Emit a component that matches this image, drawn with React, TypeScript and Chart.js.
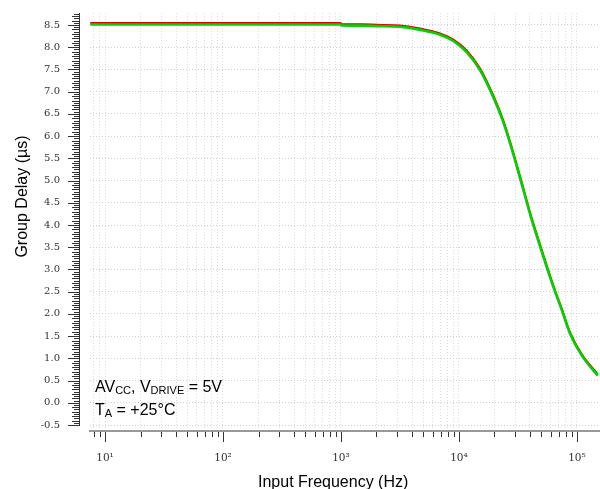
import React, { useEffect, useRef } from 'react';
import { Chart, registerables } from 'chart.js';

Chart.register(...registerables);

// ---- data ----
const freqHz = [7.5, 10, 30, 100, 300, 999, 1000, 1500, 2000, 3160, 4670, 6900, 8950, 11600, 15100, 19500, 23700, 28000, 33200, 41300, 48500, 55300, 63800, 75000, 87200, 110000, 150000];
const delayRedUs = [8.545, 8.545, 8.545, 8.545, 8.545, 8.545, 8.52, 8.515, 8.505, 8.49, 8.42, 8.31, 8.17, 7.93, 7.52, 6.92, 6.36, 5.75, 5.06, 4.16, 3.57, 3.1, 2.6, 2.09, 1.59, 1.09, 0.64];
const delayGreenUs = [8.51, 8.51, 8.51, 8.51, 8.51, 8.51, 8.49, 8.485, 8.475, 8.46, 8.39, 8.28, 8.14, 7.89, 7.48, 6.88, 6.32, 5.71, 5.02, 4.12, 3.53, 3.06, 2.57, 2.06, 1.56, 1.06, 0.61];

const yTickValues = [-0.5, 0, 0.5, 1, 1.5, 2, 2.5, 3, 3.5, 4, 4.5, 5, 5.5, 6, 6.5, 7, 7.5, 8, 8.5];
const xDecades = [10, 100, 1000, 10000, 100000];
const xDecadeLabels = ['10\u00B9', '10\u00B2', '10\u00B3', '10\u2074', '10\u2075'];
const xMultipliers = [1, 2, 3, 4, 5, 6, 7, 8, 9];
const xDecadeBases = [1, 10, 100, 1000, 10000, 100000];

const xTitle = 'Input Frequency (Hz)';
const yTitle = 'Group Delay (\u00B5s)';

const X_MIN = 7.46;
const X_MAX = 153800;
const Y_MIN = -0.635;
const Y_MAX = 8.77;

const xTickValues: number[] = [];
xDecadeBases.forEach((b) => xMultipliers.forEach((m) => {
  const v = b * m;
  if (v >= X_MIN && v <= X_MAX) xTickValues.push(v);
}));

const annotationLine1: [string, boolean][] = [['AV', false], ['CC', true], [', V', false], ['DRIVE', true], [' = 5V', false]];
const annotationLine2: [string, boolean][] = [['T', false], ['A', true], [' = +25\u00B0C', false]];

const SANS = '"Liberation Sans", Arial, sans-serif';

function drawRich(ctx: CanvasRenderingContext2D, parts: [string, boolean][], x: number, y: number) {
  let cx = x;
  for (const [text, sub] of parts) {
    ctx.font = sub ? `11px ${SANS}` : `16px ${SANS}`;
    ctx.fillText(text, cx, y + (sub ? 2 : 0));
    cx += ctx.measureText(text).width;
  }
}

function zeroPadding(s: any) {
  s.paddingTop = 0;
  s.paddingBottom = 0;
  s.paddingLeft = 0;
  s.paddingRight = 0;
}

const decorPlugin = {
  id: 'decor',
  afterDraw(chart: any) {
    const { ctx, chartArea } = chart;
    const x = chart.scales.x;
    const y = chart.scales.y;
    ctx.save();
    ctx.globalAlpha = 1;
    ctx.globalCompositeOperation = 'source-over';
    ctx.fillStyle = '#333';
    // y ruler axis
    const axisX = Math.round(chartArea.left) - 11;
    const yBottom = Math.round(y.getPixelForValue(-0.5));
    ctx.fillRect(axisX, Math.round(chartArea.top), 1, yBottom - Math.round(chartArea.top) + 1);
    for (let i = -10; i <= 175; i++) {
      const v = i * 0.05;
      const py = Math.round(y.getPixelForValue(v));
      if (py < chartArea.top) continue;
      const len = i % 10 === 0 ? 11 : (i % 2 === 0 ? 7 : 5);
      ctx.fillRect(axisX - len, py, len, 1);
    }
    // x tick marks
    const baseY = Math.round(chartArea.bottom) + 1;
    for (const t of x.ticks) {
      const px = Math.round(x.getPixelForValue(t.value));
      const major = xDecades.indexOf(t.value) >= 0;
      ctx.fillRect(px, baseY, 1, major ? 10 : 5);
    }
    // annotation
    ctx.fillStyle = '#000';
    ctx.textBaseline = 'alphabetic';
    ctx.textAlign = 'left';
    drawRich(ctx, annotationLine1, chartArea.left + 5, 391.5);
    drawRich(ctx, annotationLine2, chartArea.left + 5, 414.5);
    // axis titles
    ctx.font = `16px ${SANS}`;
    ctx.textAlign = 'left';
    ctx.fillText(xTitle, 258, 487);
    ctx.save();
    ctx.translate(27, 196.5);
    ctx.rotate(-Math.PI / 2);
    ctx.textAlign = 'center';
    ctx.fillText(yTitle, 0, 0);
    ctx.restore();
    ctx.restore();
  },
};

export default function App() {
  const ref = useRef<HTMLCanvasElement>(null);
  useEffect(() => {
    const chart = new Chart(ref.current as HTMLCanvasElement, {
      type: 'line',
      data: {
        datasets: [
          {
            label: 'green',
            data: freqHz.map((f, i) => ({ x: f, y: delayGreenUs[i] })),
            borderColor: '#00d400',
            borderWidth: 2.6,
            pointRadius: 0,
            cubicInterpolationMode: 'monotone',
            order: 1,
          },
          {
            label: 'red',
            data: freqHz.map((f, i) => ({ x: f, y: delayRedUs[i] })),
            borderColor: '#e00000',
            borderWidth: 2,
            pointRadius: 0,
            cubicInterpolationMode: 'monotone',
            order: 2,
          },
        ],
      },
      options: {
        animation: false,
        responsive: false,
        devicePixelRatio: 1,
        layout: { autoPadding: false, padding: { top: 13, right: 1, left: 0, bottom: 0 } },
        plugins: { legend: { display: false }, tooltip: { enabled: false } },
        scales: {
          x: {
            type: 'logarithmic',
            min: X_MIN,
            max: X_MAX,
            afterBuildTicks: (s: any) => { s.ticks = xTickValues.map((v) => ({ value: v })); },
            afterFit: (s: any) => { s.height = 58; zeroPadding(s); },
            grid: { color: '#dcdcdc', lineWidth: 1, drawTicks: false },
            border: { display: true, color: '#999', width: 2, dash: [1, 2] },
            ticks: {
              autoSkip: false,
              maxRotation: 0,
              minRotation: 0,
              padding: 21,
              color: '#333',
              font: { family: '"DejaVu Serif", serif', size: 10.5 },
              callback: (v: any) => {
                const k = xDecades.indexOf(Number(v));
                return k >= 0 ? xDecadeLabels[k] : '';
              },
            },
            title: { display: false, text: xTitle },
          },
          y: {
            type: 'linear',
            min: Y_MIN,
            max: Y_MAX,
            afterBuildTicks: (s: any) => { s.ticks = yTickValues.map((v) => ({ value: v })); },
            afterFit: (s: any) => { s.width = 90; zeroPadding(s); },
            grid: { color: '#cfcfcf', lineWidth: 1, drawTicks: false },
            border: { display: false, dash: [1, 2] },
            ticks: {
              padding: 30,
              color: '#333',
              font: { family: '"DejaVu Serif", serif', size: 10 },
              callback: (v: any) => Number(v).toFixed(1),
            },
            title: { display: false, text: yTitle },
          },
        },
      },
      plugins: [decorPlugin],
    } as any);
    return () => chart.destroy();
  }, []);
  return (
    <div style={{ position: 'fixed', left: 0, top: 0, width: 600, height: 489, background: '#fff' }}>
      <canvas ref={ref} width={600} height={489} style={{ display: 'block' }} />
    </div>
  );
}
